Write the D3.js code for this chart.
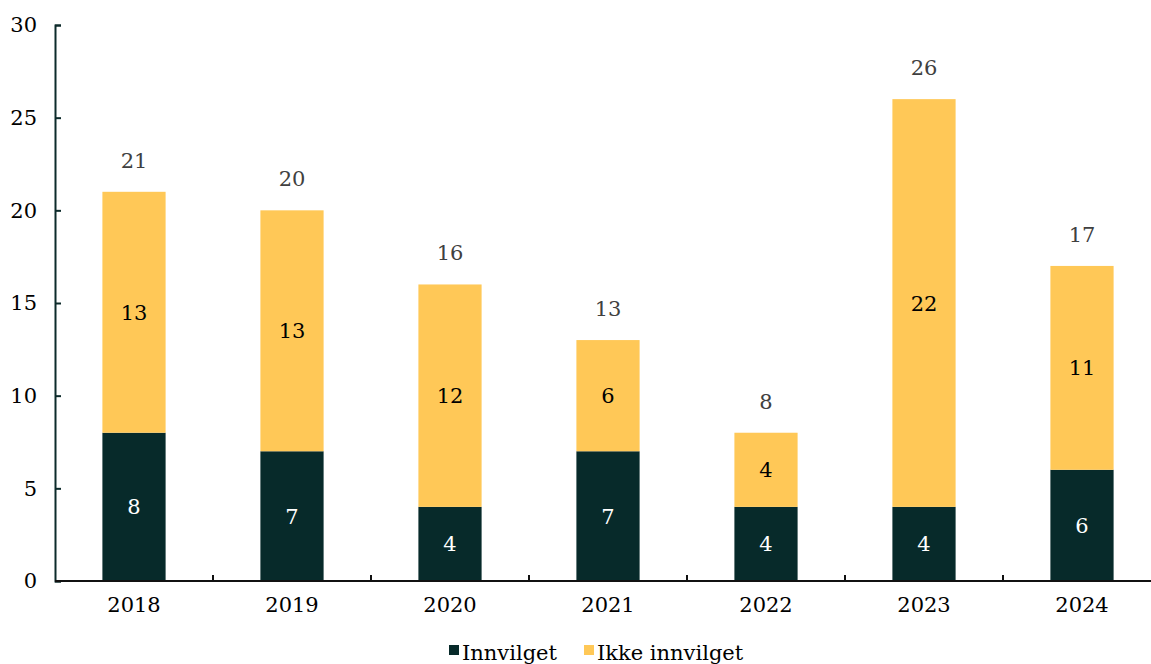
<!DOCTYPE html>
<html>
<head>
<meta charset="utf-8">
<script src="https://cdn.jsdelivr.net/npm/d3@7"></script>
<style>
  html, body { margin: 0; padding: 0; background: #fff; }
  svg { display: block; font-family: "DejaVu Serif", serif; }
</style>
</head>
<body>
<svg id="chart" width="1151" height="664"></svg>
<script>
const years = ["2018", "2019", "2020", "2021", "2022", "2023", "2024"];
const innvilget = [8, 7, 4, 7, 4, 4, 6];
const ikkeInnvilget = [13, 13, 12, 6, 4, 22, 11];
const yTicks = [0, 5, 10, 15, 20, 25, 30];
const seriesNames = ["Innvilget", "Ikke innvilget"];
const seriesColors = ["#072a2a", "#ffc857"];
const fontSize = 21;

const svg = d3.select("#chart");
const plotLeft = 55, plotBottom = 581, plotTop = 25;
const band = 158;

const x = d3.scaleBand().domain(years).range([plotLeft, plotLeft + band * years.length]).paddingInner(0.6).paddingOuter(0.3);
const y = d3.scaleLinear().domain([0, 30]).range([plotBottom, plotTop]);

const rows = years.map((yr, i) => ({ year: yr, Innvilget: innvilget[i], "Ikke innvilget": ikkeInnvilget[i] }));
const stacked = d3.stack().keys(seriesNames)(rows);

// Stacked bars with segment values
stacked.forEach((layer, li) => {
  svg.append("g").selectAll("rect").data(layer).join("rect")
    .attr("x", d => x(d.data.year))
    .attr("width", x.bandwidth())
    .attr("y", d => y(d[1]))
    .attr("height", d => y(d[0]) - y(d[1]))
    .attr("fill", seriesColors[li]);

  svg.append("g").selectAll("text").data(layer).join("text")
    .attr("x", d => x(d.data.year) + x.bandwidth() / 2)
    .attr("y", d => (y(d[0]) + y(d[1])) / 2)
    .attr("dy", "0.36em")
    .attr("text-anchor", "middle")
    .attr("font-size", fontSize)
    .attr("fill", li === 0 ? "#ffffff" : "#000000")
    .text(d => d[1] - d[0]);
});

// Totals above each bar
svg.append("g").selectAll("text").data(rows).join("text")
  .attr("x", d => x(d.year) + x.bandwidth() / 2)
  .attr("y", d => y(d.Innvilget + d["Ikke innvilget"]) - 24)
  .attr("text-anchor", "middle")
  .attr("font-size", fontSize)
  .attr("fill", "#404040")
  .text(d => d.Innvilget + d["Ikke innvilget"]);

// Y axis
const yAxis = svg.append("g").attr("transform", `translate(${plotLeft},0)`)
  .call(d3.axisLeft(y).tickValues(yTicks).tickSize(-6).tickPadding(18));
yAxis.select(".domain").attr("stroke", "#0d2b2b").attr("stroke-width", 2);
yAxis.selectAll(".tick line").attr("stroke", "#0d2b2b").attr("stroke-width", 2);
yAxis.selectAll(".tick text").attr("font-size", fontSize).attr("fill", "#000").attr("font-family", "DejaVu Serif, serif");

// X axis with boundary ticks between categories
const xAxisG = svg.append("g").attr("transform", `translate(0,${plotBottom})`);
xAxisG.append("line").attr("x1", plotLeft).attr("x2", plotLeft + band * years.length)
  .attr("stroke", "#111").attr("stroke-width", 2);
xAxisG.selectAll("line.tick").data(d3.range(1, years.length)).join("line")
  .attr("class", "tick")
  .attr("x1", i => plotLeft + band * i).attr("x2", i => plotLeft + band * i)
  .attr("y1", 0).attr("y2", -6)
  .attr("stroke", "#111").attr("stroke-width", 2);
xAxisG.selectAll("text").data(years).join("text")
  .attr("x", d => x(d) + x.bandwidth() / 2)
  .attr("y", 31)
  .attr("text-anchor", "middle")
  .attr("font-size", fontSize)
  .attr("fill", "#000")
  .text(d => d);

// Legend
const legend = svg.append("g").attr("transform", "translate(449,652)");
const legendX = [0, 135];
seriesNames.forEach((name, i) => {
  legend.append("rect").attr("x", legendX[i]).attr("y", -7).attr("width", 10).attr("height", 10).attr("fill", seriesColors[i]);
  legend.append("text").attr("x", legendX[i] + 13).attr("y", 0).attr("dy", "0.36em")
    .attr("font-size", fontSize).attr("fill", "#000").text(name);
});
</script>
</body>
</html>
